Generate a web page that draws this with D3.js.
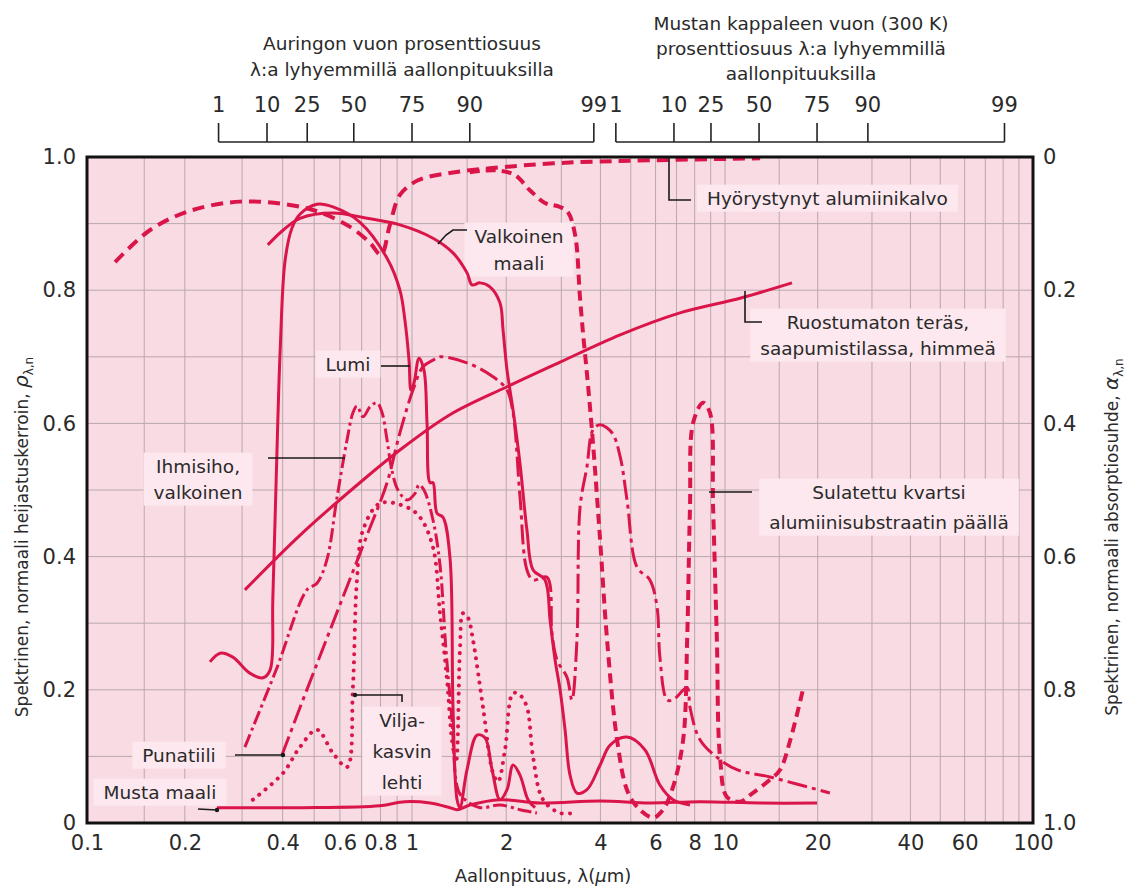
<!DOCTYPE html>
<html>
<head>
<meta charset="utf-8">
<script src="https://cdn.jsdelivr.net/npm/d3@7"></script>
<style>
  body { margin: 0; background: #fff; }
  text { font-family: "DejaVu Sans", Verdana, sans-serif; fill: #2a2a2a; }
</style>
</head>
<body>
<script>
// Spectral normal reflectivity of selected surfaces, wavelength [um] vs rho
// values

const aluminum = [[0.122,0.842],[0.156,0.890],[0.207,0.919],[0.296,0.933],[0.421,0.928],[0.521,0.917],
  [0.645,0.895],[0.743,0.871],[0.803,0.853],[0.855,0.898],[0.918,0.943],[1.045,0.965],[1.32,0.976],
  [1.77,0.983],[2.97,0.991],[5.75,0.995],[13.0,0.998]];

const quartz = [[1.53,0.977],[1.84,0.980],[2.13,0.973],[2.38,0.950],[2.66,0.931],[2.97,0.925],[3.15,0.917],
  [3.32,0.883],[3.44,0.790],[3.52,0.735],[3.62,0.676],[3.78,0.575],[3.99,0.425],[4.20,0.275],[4.52,0.125],
  [4.86,0.050],[5.24,0.024],[5.89,0.008],[6.34,0.020],[6.82,0.054],[7.35,0.125],[7.57,0.275],[7.73,0.474],
  [7.91,0.601],[8.51,0.631],[8.95,0.616],[9.16,0.474],[9.42,0.275],[9.64,0.099],[10.15,0.039],[11.2,0.032],
  [12.3,0.045],[14.0,0.065],[15.1,0.080],[16.3,0.125],[17.9,0.200]];

const whitePaint = [[0.360,0.868],[0.401,0.890],[0.452,0.908],[0.571,0.916],[0.727,0.908],[0.918,0.898],
  [1.167,0.878],[1.352,0.856],[1.499,0.826],[1.555,0.808],[1.649,0.811],[1.774,0.805],[1.910,0.781],
  [1.954,0.740],[2.012,0.680],[2.103,0.620],[2.213,0.540],[2.329,0.440],[2.437,0.380],[2.661,0.365],
  [2.761,0.305],[2.864,0.245],[2.972,0.200],[3.083,0.140],[3.198,0.072],[3.365,0.045],[3.622,0.050],
  [3.990,0.087],[4.295,0.117],[4.864,0.129],[5.546,0.110],[6.194,0.057],[6.823,0.035],[7.727,0.027]];

const snow = [[0.239,0.242],[0.257,0.255],[0.281,0.249],[0.317,0.225],[0.348,0.218],[0.366,0.230],
  [0.373,0.335],[0.382,0.515],[0.393,0.710],[0.407,0.845],[0.427,0.893],[0.452,0.914],[0.510,0.929],
  [0.571,0.925],[0.692,0.902],[0.838,0.848],[0.918,0.800],[0.951,0.755],[0.979,0.695],[0.993,0.650],
  [1.015,0.661],[1.053,0.698],[1.092,0.680],[1.117,0.600],[1.142,0.511],[1.167,0.511],[1.202,0.465],
  [1.256,0.459],[1.322,0.399],[1.352,0.174],[1.393,0.035],[1.423,0.023],[1.499,0.080],[1.614,0.132],
  [1.711,0.128],[1.802,0.080],[1.910,0.035],[2.012,0.050],[2.103,0.087],[2.213,0.072],[2.348,0.035],
  [2.472,0.023]];

const steel = [[0.306,0.350],[0.452,0.432],[0.707,0.515],[0.918,0.560],[1.322,0.613],[2.012,0.655],
  [2.972,0.692],[4.624,0.733],[7.178,0.766],[11.19,0.788],[16.5,0.811]];

const skin = [[0.306,0.114],[0.382,0.230],[0.475,0.350],[0.510,0.360],[0.547,0.395],[0.588,0.489],
  [0.631,0.575],[0.658,0.616],[0.677,0.626],[0.707,0.610],[0.743,0.625],[0.780,0.631],[0.809,0.616],
  [0.838,0.575],[0.867,0.530],[0.905,0.500],[0.966,0.485],[1.023,0.495],[1.053,0.508],[1.092,0.500],
  [1.167,0.455],[1.229,0.387],[1.284,0.260],[1.342,0.155],[1.403,0.050],[1.476,0.035],[1.649,0.023],
  [1.910,0.027],[2.213,0.020],[2.507,0.015]];

const brick = [[0.398,0.102],[0.452,0.173],[0.560,0.290],[0.727,0.432],[0.838,0.511],[0.918,0.586],
  [1.007,0.650],[1.084,0.685],[1.167,0.695],[1.229,0.700],[1.499,0.691],[1.815,0.670],[2.012,0.650],
  [2.103,0.616],[2.213,0.490],[2.329,0.380],[2.437,0.365],[2.700,0.369],[2.800,0.285],
  [2.904,0.245],[3.126,0.219],[3.243,0.185],[3.365,0.275],[3.443,0.474],[3.622,0.535],[3.784,0.590],
  [3.990,0.598],[4.355,0.586],[4.624,0.550],[4.864,0.485],[5.236,0.384],[5.754,0.365],[6.067,0.324],
  [6.194,0.249],[6.531,0.185],[6.823,0.185],[7.568,0.203],[7.727,0.174],[8.318,0.125],[9.638,0.095],
  [10.94,0.080],[14.0,0.069],[21.9,0.045]];

const leaf = [[0.324,0.035],[0.401,0.075],[0.452,0.114],[0.510,0.140],[0.571,0.105],[0.631,0.084],
  [0.658,0.204],[0.677,0.365],[0.707,0.440],[0.797,0.480],[0.966,0.474],[1.061,0.459],[1.167,0.414],
  [1.229,0.315],[1.294,0.215],[1.342,0.125],[1.382,0.092],[1.423,0.260],[1.455,0.315],[1.510,0.308],
  [1.566,0.275],[1.686,0.174],[1.815,0.075],[1.883,0.062],[1.982,0.110],[2.103,0.195],[2.213,0.192],
  [2.329,0.174],[2.437,0.099],[2.622,0.035],[2.972,0.015],[3.266,0.015]];

const blackPaint = [[0.251,0.023],[0.452,0.023],[0.797,0.026],[0.951,0.032],[1.142,0.030],[1.322,0.023],
  [1.393,0.020],[1.531,0.027],[1.910,0.035],[2.564,0.030],[3.990,0.033],[5.754,0.030],[8.318,0.032],
  [13.0,0.030],[19.9,0.030]];

// axes
const xTicks = [0.1, 0.2, 0.4, 0.6, 0.8, 1, 2, 4, 6, 8, 10, 20, 40, 60, 100];
const xGrid = [0.15, 0.2, 0.3, 0.4, 0.5, 0.6, 0.7, 0.8, 0.9, 1, 1.5, 2, 3, 4, 5, 6, 7, 8, 9,
               10, 15, 20, 30, 40, 50, 60, 70, 80, 90];
const yTicks = [0, 0.2, 0.4, 0.6, 0.8, 1.0];
const yGrid = [0.1, 0.2, 0.3, 0.4, 0.5, 0.6, 0.7, 0.8, 0.9];

// top scales: fraction of emitted flux below lambda
const fracLabels = ["1", "10", "25", "50", "75", "90", "99"];
const solarLambda = [0.254, 0.358, 0.476, 0.662, 1.0, 1.53, 3.81];   // sun
const bodyLambda = [4.48, 6.87, 9.02, 12.9, 19.9, 29.1, 80.8];       // blackbody 300 K

const W = 1129, H = 888;
const plot = { left: 87, right: 1033, top: 157, bottom: 823 };
const RED = "#da1549";
const INK = "#2a2a2a";

// the printed log axis is not quite even, so piecewise per decade
const x = d3.scaleLog().domain([0.1, 1, 10, 100]).range([87, 412, 725, 1033]);
const y = d3.scaleLinear().domain([0, 1]).range([plot.bottom, plot.top]);
const yAbs = d3.scaleLinear().domain([0, 1]).range([plot.top, plot.bottom]);

const svg = d3.select("body").append("svg").attr("width", W).attr("height", H);

svg.append("defs").append("clipPath").attr("id", "plotclip")
  .append("rect")
  .attr("x", plot.left).attr("y", plot.top)
  .attr("width", plot.right - plot.left).attr("height", plot.bottom - plot.top);

// background + grid
svg.append("rect")
  .attr("x", plot.left).attr("y", plot.top)
  .attr("width", plot.right - plot.left).attr("height", plot.bottom - plot.top)
  .attr("fill", "#f9dbe3");

const grid = svg.append("g").attr("stroke", "#b9a8ad").attr("stroke-width", 1);
grid.selectAll(".gx").data(xGrid).join("line")
  .attr("x1", d => x(d)).attr("x2", d => x(d))
  .attr("y1", plot.top).attr("y2", plot.bottom);
grid.selectAll(".gy").data(yGrid).join("line")
  .attr("x1", plot.left).attr("x2", plot.right)
  .attr("y1", d => y(d)).attr("y2", d => y(d));

const boxLayer = svg.append("g");

// curves
const series = [
  { data: aluminum, width: 4, dash: "12,7" },
  { data: quartz, width: 4, dash: "10,6" },
  { data: steel, width: 3 },
  { data: whitePaint, width: 3 },
  { data: snow, width: 3 },
  { data: skin, width: 3, dash: "14,4,3,4" },
  { data: brick, width: 3, dash: "20,5,4,5" },
  { data: leaf, width: 4, dash: "0.1,8", cap: "round" },
  { data: blackPaint, width: 3 }
];

const line = d3.line()
  .x(d => x(d[0]))
  .y(d => y(d[1]))
  .curve(d3.curveCatmullRom.alpha(0.5));

svg.append("g").attr("clip-path", "url(#plotclip)")
  .selectAll("path").data(series).join("path")
  .attr("d", d => line(d.data))
  .attr("fill", "none")
  .attr("stroke", RED)
  .attr("stroke-width", d => d.width)
  .attr("stroke-dasharray", d => d.dash || null)
  .attr("stroke-linecap", d => d.cap || "butt")
  .attr("stroke-linejoin", "round");

// frame
svg.append("rect")
  .attr("x", plot.left).attr("y", plot.top)
  .attr("width", plot.right - plot.left).attr("height", plot.bottom - plot.top)
  .attr("fill", "none").attr("stroke", "#111").attr("stroke-width", 3);

// bottom axis
const gx = svg.append("g").attr("transform", `translate(0,${plot.bottom})`)
  .call(d3.axisBottom(x).tickValues(xTicks).tickFormat(d => String(d)).tickSize(0).tickPadding(12));
gx.select(".domain").remove();
gx.attr("font-size", 21).attr("font-family", "DejaVu Sans, sans-serif");
gx.selectAll("text").attr("fill", INK);

// left axis (reflectivity)
const gyL = svg.append("g").attr("transform", `translate(${plot.left},0)`)
  .call(d3.axisLeft(y).tickValues(yTicks).tickFormat(d => d === 0 ? "0" : d3.format(".1f")(d))
    .tickSize(0).tickPadding(11));
gyL.select(".domain").remove();
gyL.attr("font-size", 21).attr("font-family", "DejaVu Sans, sans-serif");
gyL.selectAll("text").attr("fill", INK);

// right axis (absorptivity = 1 - rho)
const gyR = svg.append("g").attr("transform", `translate(${plot.right},0)`)
  .call(d3.axisRight(yAbs).tickValues(yTicks).tickFormat(d => d === 0 ? "0" : d3.format(".1f")(d))
    .tickSize(0).tickPadding(10));
gyR.select(".domain").remove();
gyR.attr("font-size", 21).attr("font-family", "DejaVu Sans, sans-serif");
gyR.selectAll("text").attr("fill", INK);

// top fraction scales
function topScale(lams, labels) {
  const g = svg.append("g").attr("stroke", "#222").attr("stroke-width", 1.6);
  g.append("line")
    .attr("x1", x(lams[0])).attr("x2", x(lams[lams.length - 1]))
    .attr("y1", 142).attr("y2", 142);
  g.selectAll(".tk").data(lams).join("line")
    .attr("x1", d => x(d)).attr("x2", d => x(d))
    .attr("y1", 142).attr("y2", 123);
  svg.append("g").selectAll("text").data(labels).join("text")
    .attr("x", (d, i) => x(lams[i])).attr("y", 112)
    .attr("text-anchor", "middle").attr("font-size", 21)
    .text(d => d);
}
topScale(solarLambda, fracLabels);
topScale(bodyLambda, fracLabels);

function titleLines(lines, cx, baselines, size) {
  svg.append("g").selectAll("text").data(lines).join("text")
    .attr("x", cx).attr("y", (d, i) => baselines[i])
    .attr("text-anchor", "middle").attr("font-size", size)
    .text(d => d);
}
titleLines(["Auringon vuon prosenttiosuus", "λ:a lyhyemmillä aallonpituuksilla"], 402, [50, 76], 18.5);
titleLines(["Mustan kappaleen vuon (300 K)", "prosenttiosuus λ:a lyhyemmillä", "aallonpituuksilla"],
  801, [30, 55, 80], 18.5);

// axis titles
const xt = svg.append("text").attr("x", 543).attr("y", 882)
  .attr("text-anchor", "middle").attr("font-size", 18);
xt.append("tspan").text("Aallonpituus, λ(");
xt.append("tspan").attr("font-style", "italic").text("μ");
xt.append("tspan").text("m)");

function yTitle(xPos, main, sym) {
  const t = svg.append("text")
    .attr("transform", `translate(${xPos},537) rotate(-90)`)
    .attr("text-anchor", "middle").attr("font-size", 17);
  t.append("tspan").text(main);
  t.append("tspan").attr("font-style", "italic").attr("font-size", 20).text(sym);
  t.append("tspan").attr("font-size", 12).attr("dy", 5).text("λ,n");
}
yTitle(28, "Spektrinen, normaali heijastuskerroin, ", "ρ");
yTitle(1118, "Spektrinen, normaali absorptiosuhde, ", "α");

// annotations: text placed in pixels, leaders point at the curves
const annotations = [
  { lines: ["Hyörystynyt alumiinikalvo"], x: 707, y: 198, anchor: "start", lh: 0,
    leader: [[669, 158], [669, 200], [691, 200]] },
  { lines: ["Valkoinen", "maali"], x: 519, y: 236, lh: 27,
    leader: [[438, 244], [446, 235], [453, 230], [467, 230]] },
  { lines: ["Ruostumaton teräs,", "saapumistilassa, himmeä"], x: 878, y: 322, lh: 26,
    leader: [[745, 291], [745, 322], [762, 322]] },
  { lines: ["Lumi"], x: 348, y: 364, lh: 0, leader: [[381, 366], [410, 366]] },
  { lines: ["Ihmisiho,", "valkoinen"], x: 198, y: 466, lh: 26, leader: [[268, 458], [345, 458]] },
  { lines: ["Sulatettu kvartsi", "alumiinisubstraatin päällä"], x: 889, y: 492, lh: 30,
    leader: [[709, 492], [752, 492]] },
  { lines: ["Vilja-", "kasvin", "lehti"], x: 402, y: 720, lh: 31,
    leader: [[355, 695], [402, 695], [402, 702]], dot: 0 },
  { lines: ["Punatiili"], x: 179, y: 755, lh: 0, leader: [[235, 755], [283, 755]], dot: 1 },
  { lines: ["Musta maali"], x: 160, y: 792, lh: 0, leader: [[198, 809], [217, 810]], dot: 1 }
];

const leaderLayer = svg.append("g");
const textLayer = svg.append("g");

annotations.forEach(a => {
  const t = textLayer.append("text")
    .attr("text-anchor", a.anchor || "middle")
    .attr("font-size", 18.5);
  a.lines.forEach((s, i) => {
    t.append("tspan").attr("x", a.x).attr("y", a.y + i * a.lh).attr("dy", "0.36em").text(s);
  });
  const bb = t.node().getBBox();
  boxLayer.append("rect")
    .attr("x", bb.x - 10).attr("y", bb.y - 3)
    .attr("width", bb.width + 20).attr("height", bb.height + 6)
    .attr("fill", "#fce8ee");

  leaderLayer.append("path")
    .attr("d", d3.line()(a.leader))
    .attr("fill", "none").attr("stroke", "#1a1a1a").attr("stroke-width", 1.6);
  if (a.dot !== undefined) {
    const p = a.dot === 0 ? a.leader[0] : a.leader[a.leader.length - 1];
    leaderLayer.append("circle").attr("cx", p[0]).attr("cy", p[1]).attr("r", 2.2).attr("fill", "#1a1a1a");
  }
});
</script>
</body>
</html>
